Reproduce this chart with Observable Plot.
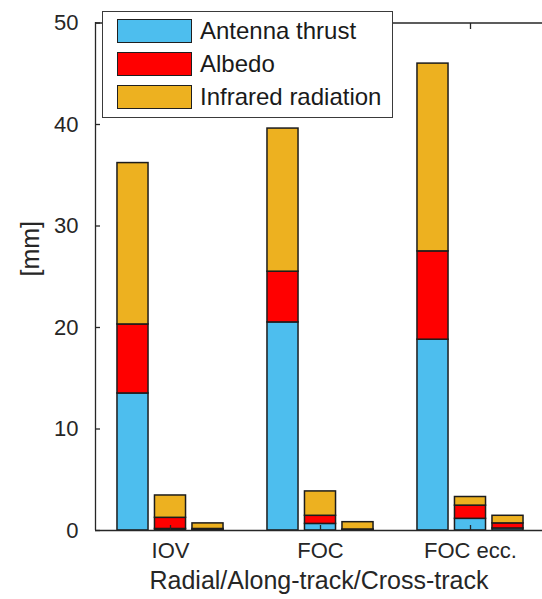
<!DOCTYPE html>
<html>
<head>
<meta charset="utf-8">
<script src="https://cdn.jsdelivr.net/npm/d3@7"></script>
<script src="https://cdn.jsdelivr.net/npm/@observablehq/plot@0.6"></script>
<style>
  html, body { margin: 0; padding: 0; background: #fff; }
  #wrap { position: relative; width: 542px; height: 599px; overflow: hidden;
          font-family: "Liberation Sans", Arial, Helvetica, sans-serif; color: #262626; }
  #legend { position: absolute; left: 102px; top: 11px; width: 291px; height: 107px;
            background: #fff; border: 1.3px solid #3a3a3a; box-sizing: border-box; }
  .item { position: absolute; left: 14px; height: 24px; display: flex; align-items: center; }
  .sw { width: 75px; height: 24px; border: 1.5px solid #1f1f1f; box-sizing: border-box; margin-right: 8px; }
  .lbl { font-size: 24px; color: #1a1a1a; white-space: nowrap; line-height: 24px; }
</style>
</head>
<body>
<div id="wrap"></div>
<script>
// ---- data ----
const groups = ["IOV", "FOC", "FOC ecc."];
const directions = ["Radial", "Along-track", "Cross-track"];
const components = ["Antenna thrust", "Albedo", "Infrared radiation"];
const componentColors = ["#4DBEEE", "#FF0000", "#EDB120"];
// segment values [mm], per group, per direction (Radial, Along-track, Cross-track)
const antennaThrust = [[13.5, 0.15, 0.05], [20.5, 0.65, 0.05], [18.8, 1.15, 0.2]];
const albedo        = [[6.8, 1.1, 0.1],    [5.0, 0.8, 0.05],   [8.7, 1.3, 0.5]];
const infrared      = [[15.9, 2.2, 0.55],  [14.1, 2.4, 0.72],  [18.5, 0.85, 0.75]];
const yTicks = [0, 10, 20, 30, 40, 50];
const xLabel = "Radial/Along-track/Cross-track";
const yLabel = "[mm]";

// ---- layout ----
const W = 542, H = 599;
const xDomain = [0.5, 3.5];
const barOffsets = [-0.25, 0, 0.25];
const barWidth = 0.207;
const series = [antennaThrust, albedo, infrared];

const bars = [];
groups.forEach((g, gi) => {
  directions.forEach((dname, di) => {
    let acc = 0;
    series.forEach((s, ci) => {
      const v = s[gi][di];
      bars.push({
        group: g, direction: dname, component: components[ci],
        x1: gi + 1 + barOffsets[di] - barWidth / 2,
        x2: gi + 1 + barOffsets[di] + barWidth / 2,
        y1: acc, y2: acc + v
      });
      acc += v;
    });
  });
});

const axisColor = "#262626";
const chart = Plot.plot({
  width: W, height: H,
  marginLeft: 95, marginRight: 0, marginTop: 22, marginBottom: 69,
  style: { fontFamily: '"Liberation Sans", Arial, Helvetica, sans-serif', color: axisColor, background: "#fff" },
  x: { type: "linear", domain: xDomain, range: [95, 545] },
  y: { domain: [0, 50], range: [530, 22.5] },
  color: { domain: components, range: componentColors },
  marks: [
    Plot.rect(bars, { x1: "x1", x2: "x2", y1: "y1", y2: "y2", fill: "component", stroke: "#1c1c1c", strokeWidth: 1.5 }),
    Plot.ruleY([0, 50], { stroke: axisColor, strokeWidth: 1.3 }),
    Plot.ruleX([xDomain[0]], { stroke: axisColor, strokeWidth: 1.3 }),
    Plot.axisY({ ticks: yTicks, tickSize: -5, tickPadding: 22, fontSize: 22, label: null, stroke: axisColor, strokeWidth: 1.3 }),
    Plot.axisX({ anchor: "bottom", ticks: [1, 2, 3], tickFormat: d => groups[d - 1], tickSize: -5, tickPadding: 17, fontSize: 22, label: null, stroke: axisColor, strokeWidth: 1.3 }),
    Plot.axisX({ anchor: "top", ticks: [1, 2, 3], tickFormat: () => "", tickSize: -6, label: null, stroke: axisColor, strokeWidth: 1.3 }),
    Plot.text([xLabel], { frameAnchor: "bottom", dy: 58, fontSize: 25, fill: axisColor }),
    Plot.text([yLabel], { frameAnchor: "left", dx: -65, rotate: -90, fontSize: 25, fill: axisColor })
  ]
});

const wrap = document.getElementById("wrap");
wrap.appendChild(chart);

// legend (inside plot area, upper left)
const legend = document.createElement("div");
legend.id = "legend";
components.forEach((c, i) => {
  const item = document.createElement("div");
  item.className = "item";
  item.style.top = (7 + i * 33) + "px";
  const sw = document.createElement("div");
  sw.className = "sw";
  sw.style.background = componentColors[i];
  const lbl = document.createElement("span");
  lbl.className = "lbl";
  lbl.textContent = c;
  item.appendChild(sw); item.appendChild(lbl);
  legend.appendChild(item);
});
wrap.appendChild(legend);
</script>
</body>
</html>
